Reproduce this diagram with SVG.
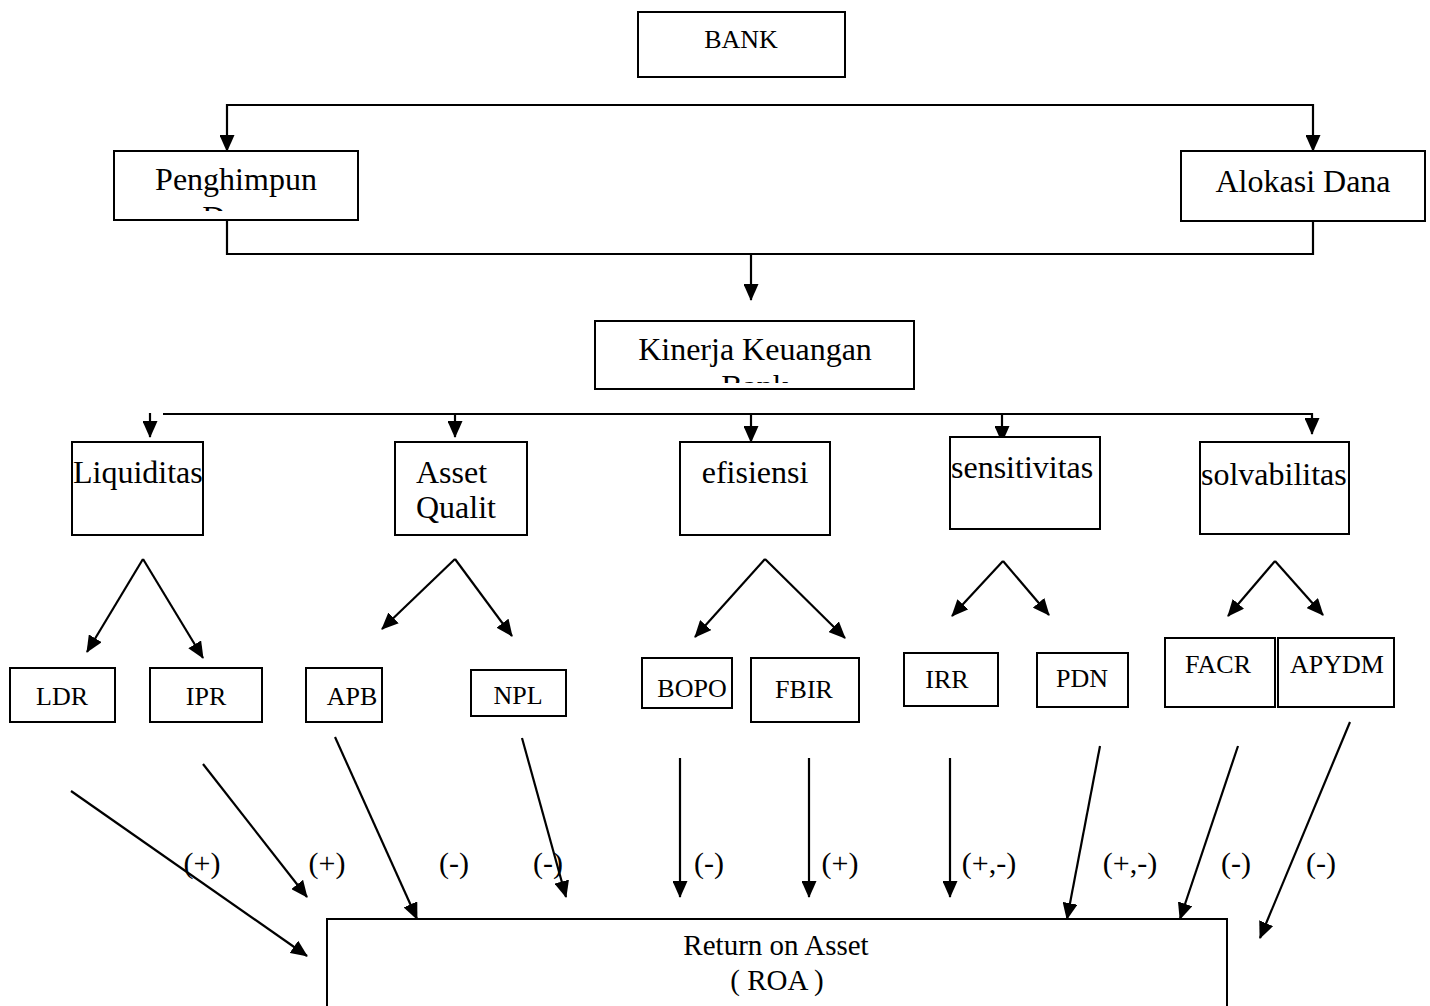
<svg xmlns="http://www.w3.org/2000/svg" width="1430" height="1006" viewBox="0 0 1430 1006">
<style>
.box{fill:#fff;stroke:#000;stroke-width:2}
.t{font-family:"Liberation Serif","Times New Roman",serif;fill:#000;text-anchor:middle}
.s{text-anchor:start}
.big{font-size:32px}
.bk{font-size:26px}
.mid{font-size:26px}
.sg{font-size:30px}
.roa{font-size:29px}
.c{fill:none;stroke:#000;stroke-width:2.2}
.a{marker-end:url(#ah)}
</style>
<defs>
<marker id="ah" markerUnits="userSpaceOnUse" viewBox="0 0 17 15" markerWidth="17" markerHeight="15" refX="16" refY="7.5" orient="auto"><path d="M0,0 L17,7.5 L0,15 z" fill="#000"/></marker>
<clipPath id="cp1"><rect x="114" y="151" width="244" height="60"/></clipPath>
<clipPath id="cp2"><rect x="595" y="321" width="319" height="62"/></clipPath>
</defs>
<rect width="1430" height="1006" fill="#fff"/>

<g id="connectors">
<path class="c a" d="M741,105 H227 V151"/>
<path class="c a" d="M741,105 H1313 V151"/>
<path class="c" d="M227,220 V254 H1313 V221"/>
<path class="c a" d="M751,254 V300"/>
<path class="c a" d="M163,414 H1312 V434"/>
<path class="c a" d="M150,413 V437"/>
<path class="c a" d="M455,414 V437"/>
<path class="c a" d="M751,414 V442"/>
<path class="c a" d="M1002,414 V442"/>
<path class="c a" d="M143,559 L87,652"/>
<path class="c a" d="M143,559 L203,658"/>
<path class="c a" d="M455,559 L382,629"/>
<path class="c a" d="M455,559 L512,636"/>
<path class="c a" d="M765,559 L695,637"/>
<path class="c a" d="M765,559 L845,638"/>
<path class="c a" d="M1003,561 L952,616"/>
<path class="c a" d="M1003,561 L1049,615"/>
<path class="c a" d="M1275,561 L1228,616"/>
<path class="c a" d="M1275,561 L1323,615"/>
<path class="c a" d="M71,791 L307,956"/>
<path class="c a" d="M203,764 L307,897"/>
<path class="c a" d="M335,737 L417,919"/>
<path class="c a" d="M522,738 L566,897"/>
<path class="c a" d="M680,758 V897"/>
<path class="c a" d="M809,758 V897"/>
<path class="c a" d="M950,758 V897"/>
<path class="c a" d="M1100,746 L1067,919"/>
<path class="c a" d="M1238,746 L1180,919"/>
<path class="c a" d="M1350,722 L1260,938"/>
</g>

<g id="labels">
<text class="t sg" x="202" y="873">(+)</text>
<text class="t sg" x="327" y="873">(+)</text>
<text class="t sg" x="454" y="873">(-)</text>
<text class="t sg" x="548" y="873">(-)</text>
<text class="t sg" x="709" y="873">(-)</text>
<text class="t sg" x="840" y="873">(+)</text>
<text class="t sg" x="989" y="873">(+,-)</text>
<text class="t sg" x="1130" y="873">(+,-)</text>
<text class="t sg" x="1236" y="873">(-)</text>
<text class="t sg" x="1321" y="873">(-)</text>
</g>

<g id="bank"><rect class="box" x="638" y="12" width="207" height="65"/><text class="t bk" x="741" y="48">BANK</text></g>
<g id="penghimpun"><rect class="box" x="114" y="151" width="244" height="69"/><text class="t big" x="236" y="190">Penghimpun</text><text class="t big" x="236" y="228" clip-path="url(#cp1)">Dana</text></g>
<g id="alokasi"><rect class="box" x="1181" y="151" width="244" height="70"/><text class="t big" x="1303" y="192">Alokasi Dana</text></g>
<g id="kinerja"><rect class="box" x="595" y="321" width="319" height="68"/><text class="t big" x="755" y="360">Kinerja Keuangan</text><text class="t big" x="755" y="397" clip-path="url(#cp2)">Bank</text></g>

<g id="liquiditas"><rect class="box" x="72" y="442" width="131" height="93"/><text class="t s big" x="73" y="483">Liquiditas</text></g>
<g id="asset"><rect class="box" x="395" y="442" width="132" height="93"/><text class="t s big" x="416" y="483">Asset</text><text class="t s big" x="416" y="518">Qualit</text></g>
<g id="efisiensi"><rect class="box" x="680" y="442" width="150" height="93"/><text class="t big" x="755" y="483">efisiensi</text></g>
<g id="sensitivitas"><rect class="box" x="950" y="437" width="150" height="92"/><text class="t s big" x="951" y="478">sensitivitas</text></g>
<g id="solvabilitas"><rect class="box" x="1200" y="442" width="149" height="92"/><text class="t s big" x="1201" y="485">solvabilitas</text></g>

<g id="ldr"><rect class="box" x="10" y="668" width="105" height="54"/><text class="t mid" x="62" y="705">LDR</text></g>
<g id="ipr"><rect class="box" x="150" y="668" width="112" height="54"/><text class="t mid" x="206" y="705">IPR</text></g>
<g id="apb"><rect class="box" x="306" y="668" width="76" height="54"/><text class="t mid" x="352" y="705">APB</text></g>
<g id="npl"><rect class="box" x="471" y="670" width="95" height="46"/><text class="t mid" x="518" y="704">NPL</text></g>
<g id="bopo"><rect class="box" x="642" y="658" width="90" height="50"/><text class="t mid" x="692" y="697">BOPO</text></g>
<g id="fbir"><rect class="box" x="751" y="658" width="108" height="64"/><text class="t mid" x="804" y="698">FBIR</text></g>
<g id="irr"><rect class="box" x="904" y="653" width="94" height="53"/><text class="t mid" x="947" y="688">IRR</text></g>
<g id="pdn"><rect class="box" x="1037" y="653" width="91" height="54"/><text class="t mid" x="1082" y="687">PDN</text></g>
<g id="facr"><rect class="box" x="1165" y="638" width="110" height="69"/><text class="t mid" x="1218" y="673">FACR</text></g>
<g id="apydm"><rect class="box" x="1278" y="638" width="116" height="69"/><text class="t mid" x="1337" y="673">APYDM</text></g>

<g id="roa"><rect class="box" x="327" y="919" width="900" height="95"/><text class="t roa" x="776" y="955">Return on Asset</text><text class="t roa" x="777" y="990">( ROA )</text></g>
</svg>
